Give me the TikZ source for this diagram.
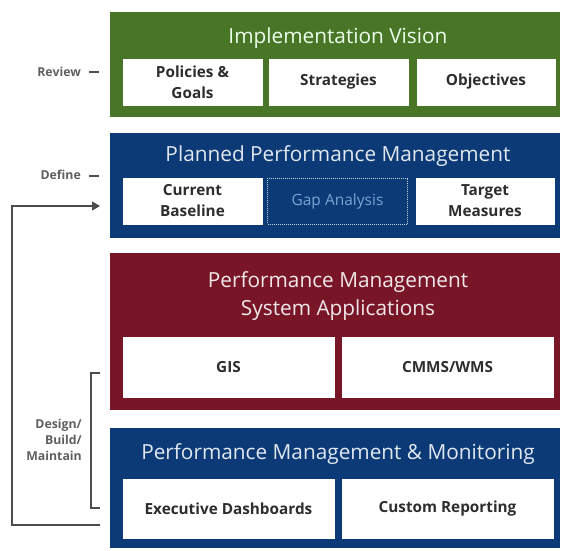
\documentclass[tikz,border=0pt]{standalone}
\usepackage{fontspec}
\setmainfont{Open Sans}
\usetikzlibrary{arrows.meta}
\definecolor{pgreen}{RGB}{72,118,38}
\definecolor{pblue}{RGB}{12,58,118}
\definecolor{pred}{RGB}{120,22,40}
\definecolor{boxtext}{RGB}{45,45,45}
\definecolor{sidetext}{RGB}{95,95,95}
\definecolor{titlelight}{RGB}{225,232,240}
\definecolor{gaptext}{RGB}{120,165,210}
\begin{document}
\begin{tikzpicture}[x=1pt,y=-1pt,
  panel/.style={draw=none, minimum width=450pt, inner sep=0pt, outer sep=0pt},
  ptitle/.style={text=titlelight, font=\fontsize{20.8}{25}\selectfont, align=center, inner sep=0pt},
  wbox/.style={fill=white, draw=white, inner sep=0pt, outer sep=0pt, align=center,
    text=boxtext, font=\bfseries\fontsize{15.3}{19}\selectfont},
  side/.style={text=sidetext, font=\bfseries\fontsize{12.3}{15}\selectfont, inner sep=0pt, align=right},
  conn/.style={draw=sidetext!80!black, line width=1.2pt},
]
\useasboundingbox (0,0) rectangle (562,550);
% panels
\node[panel, fill=pgreen, minimum height=105pt] (green) at (335,64.5) {};
\node[panel, fill=pblue, minimum height=105pt] (plan) at (335,185.5) {};
\node[panel, fill=pred, minimum height=157pt] (sys) at (335,331.5) {};
\node[panel, fill=pblue, minimum height=120pt] (mon) at (335,488) {};
% titles
\node[ptitle, text=white!92!green] (t1) at (338,38) {Implementation Vision};
\node[ptitle] (t2) at (338,156) {Planned Performance Management};
\node[ptitle, text=white!90!pred] (t3) at (338,296) {Performance Management\\[3pt]System Applications};
\node[ptitle] (t4) at (338,454) {Performance Management \& Monitoring};
% green boxes
\node[wbox, minimum width=139pt, minimum height=46pt] (pol) at (192.5,82) {Policies \&\\[2pt]Goals};
\node[wbox, minimum width=139pt, minimum height=46pt] (str) at (338.5,82) {Strategies};
\node[wbox, minimum width=138pt, minimum height=46pt] (obj) at (486,82) {Objectives};
% blue boxes
\node[wbox, minimum width=139pt, minimum height=46pt] (cur) at (192.5,201) {Current\\[2pt]Baseline};
\node[draw=white!75!pblue, densely dotted, line width=1pt, minimum width=140pt, minimum height=46pt,
  inner sep=0pt, text=gaptext, font=\fontsize{15.5}{18}\selectfont] (gap) at (337.5,201) {Gap Analysis};
\node[wbox, minimum width=138pt, minimum height=46pt] (tgt) at (485,201) {Target\\[2pt]Measures};
% red boxes
\node[wbox, minimum width=211pt, minimum height=60pt] (gis) at (228.5,367) {GIS};
\node[wbox, minimum width=211pt, minimum height=60pt] (cmms) at (447.5,367) {CMMS/WMS};
% monitoring boxes
\node[wbox, minimum width=211pt, minimum height=59pt] (exec) at (228.5,508.5) {Executive Dashboards};
\node[wbox, minimum width=211pt, minimum height=59pt] (cust) at (447.5,508.5) {Custom Reporting};
% side labels
\node[side, anchor=east] (rev) at (81,72) {Review};
\node[side, anchor=east] (def) at (81,175) {Define};
\node[side, anchor=east] (dbm) at (82,440) {Design/\\[1pt]Build/\\[1pt]Maintain};
\coordinate (rd1) at (89,72); \coordinate (rd2) at (99,72);
\coordinate (dd1) at (89,176); \coordinate (dd2) at (99,176);
\draw[conn] (rd1) -- (rd2);
\draw[conn] (dd1) -- (dd2);
% loop arrow
\coordinate (lb) at (100,525);
\coordinate (la) at (100,206);
\draw[conn, -{Triangle[length=8pt,width=9pt]}] (lb) -- (12,525) -- (12,206) -- (la);
% bracket
\coordinate (b1) at (100,373);
\coordinate (b2) at (100,508);
\draw[conn] (b1) -- (91,373) -- (91,508) -- (b2);
\end{tikzpicture}
\end{document}
